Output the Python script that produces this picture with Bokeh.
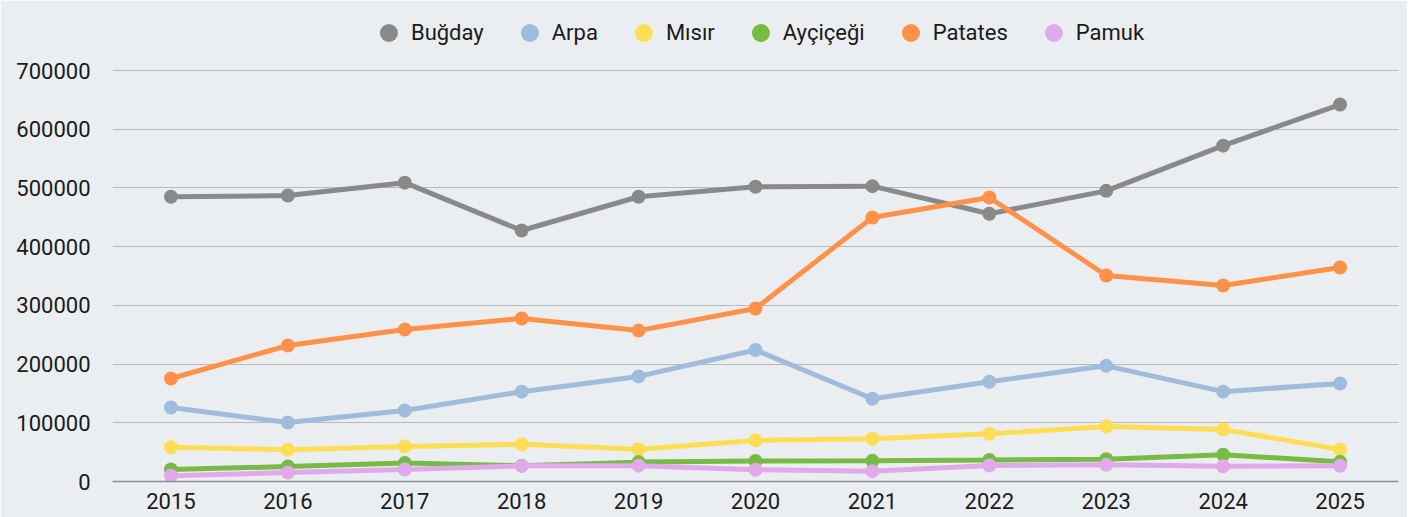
from bokeh.plotting import figure
from bokeh.models import Legend, LegendItem, FixedTicker, BasicTickFormatter, Range1d
from bokeh.embed import file_html
from bokeh.resources import INLINE

years = [2015, 2016, 2017, 2018, 2019, 2020, 2021, 2022, 2023, 2024, 2025]
bugday = [485000, 487000, 509000, 427500, 485000, 502000, 503000, 456000, 495000, 572000, 642000]
arpa = [126000, 100500, 121000, 153000, 179000, 224000, 141000, 170000, 197000, 153000, 167000]
misir = [58400, 54000, 59600, 63500, 55000, 70000, 72700, 81200, 93700, 88600, 54500]
aycicegi = [20400, 25500, 31500, 27000, 33000, 35000, 35200, 36500, 38000, 45500, 33500]
patates = [175400, 231600, 259000, 277600, 257000, 294600, 449600, 483700, 350900, 333800, 364500]
pamuk = [9700, 15300, 20400, 26700, 27000, 20000, 17600, 27300, 28400, 26100, 26700]

names = ["Buğday", "Arpa", "Mısır", "Ayçiçeği", "Patates", "Pamuk"]
series = [bugday, arpa, misir, aycicegi, patates, pamuk]
colors = ["#898989", "#a0bcdc", "#ffdd55", "#77bb44", "#ff9148", "#e0a9ea"]
y_ticks = [0, 100000, 200000, 300000, 400000, 500000, 600000, 700000]

FONT = "Roboto"
BG = "#eaeef1"

p = figure(width=1407, height=517, output_backend="svg", toolbar_location=None,
           x_range=Range1d(2014.5, 2025.5), y_range=Range1d(0, 802190),
           min_border_left=112, min_border_right=9, min_border_top=10, min_border_bottom=36)
p.background_fill_color = BG
p.border_fill_color = BG
p.outline_line_color = None

items = []
for name, vals, col in zip(names, series, colors):
    p.line(years, vals, line_color=col, line_width=5)
    r = p.scatter(years, vals, size=14, fill_color=col, line_color=col, line_width=0)
    items.append(LegendItem(label=name, renderers=[r]))

legend = Legend(items=items, orientation="horizontal", location="top_center",
                background_fill_alpha=0, border_line_color=None,
                label_text_font=FONT, label_text_font_size="22px", label_text_color="#1a1a1a",
                glyph_width=45, glyph_height=45, label_standoff=0, spacing=23,
                padding=0, margin=0)
p.add_layout(legend, "center")

p.xaxis.ticker = FixedTicker(ticks=years)
p.yaxis.ticker = FixedTicker(ticks=y_ticks)
p.yaxis.formatter = BasicTickFormatter(use_scientific=False)
for ax in (p.xaxis, p.yaxis):
    ax.major_tick_line_color = None
    ax.minor_tick_line_color = None
    ax.major_label_text_font = FONT
    ax.major_label_text_font_size = "22px"
    ax.major_label_text_color = "#1a1a1a"
p.yaxis.axis_line_color = None
p.xaxis.axis_line_color = "#8c8c8c"
p.xaxis.axis_line_width = 1.5
p.yaxis.major_label_standoff = 16
p.xaxis.major_label_standoff = 5
p.xgrid.grid_line_color = None
p.ygrid.grid_line_color = "#b9b9b9"
p.ygrid.grid_line_width = 1

open("out.html", "w").write(file_html(p, INLINE))
